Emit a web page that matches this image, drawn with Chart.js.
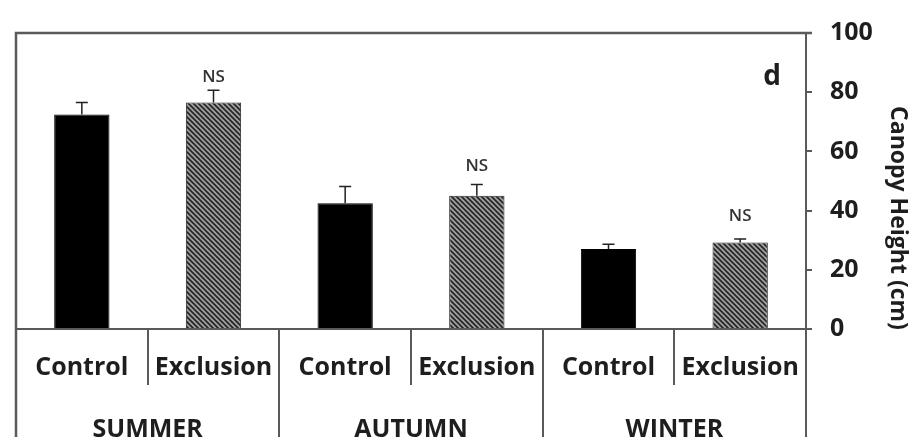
<!DOCTYPE html>
<html>
<head>
<meta charset="utf-8">
<script src="https://cdn.jsdelivr.net/npm/chart.js@4.4.1/dist/chart.umd.min.js"></script>
<style>
  html, body { margin: 0; padding: 0; background: #fff; }
  #wrap { width: 915px; height: 437px; position: relative; }
</style>
</head>
<body>
<div id="wrap"><canvas id="canopyChart"></canvas></div>
<script>
// values (cm)
let treatments = ["Control", "Exclusion", "Control", "Exclusion", "Control", "Exclusion"];
let seasons = ["SUMMER", "AUTUMN", "WINTER"];
let heights = [72.5, 76.5, 42.5, 45.0, 27.0, 29.2];
let errors = [4.0, 4.2, 5.6, 3.8, 1.6, 1.2];
let nsLabels = ["", "NS", "", "NS", "", "NS"];
let nsLevels = [0, 85, 0, 55, 0, 38];
let yTicks = [0, 20, 40, 60, 80, 100];

const lineGray = "#5a5a5a";
const textColor = "#1e1e1e";
const tickFont = { family: "Open Sans", size: 25, weight: "bold" };

function hatch() {
  let c = document.createElement("canvas");
  c.width = 5;
  c.height = 5;
  let g = c.getContext("2d");
  g.fillStyle = "#a0a0a0";
  g.fillRect(0, 0, 5, 5);
  g.strokeStyle = "#262626";
  g.lineWidth = 1.7;
  g.beginPath();
  g.moveTo(-1, -1);
  g.lineTo(6, 6);
  g.moveTo(-1, 4);
  g.lineTo(1, 6);
  g.moveTo(4, -1);
  g.lineTo(6, 1);
  g.stroke();
  return g.createPattern(c, "repeat");
}
let hatchFill = hatch();

// frame, error bars and labels
const extras = {
  id: "extras",
  afterDatasetsDraw(chart) {
    const ctx = chart.ctx;
    const area = chart.chartArea;
    const y = chart.scales.y;
    const meta = chart.getDatasetMeta(0);
    ctx.save();
    ctx.strokeStyle = lineGray;
    ctx.lineWidth = 2.5;
    ctx.beginPath();
    ctx.moveTo(area.left, chart.height);
    ctx.lineTo(area.left, area.top);
    ctx.lineTo(area.right + 6, area.top);
    ctx.stroke();

    ctx.strokeStyle = "#222";
    ctx.lineWidth = 1.5;
    meta.data.forEach((bar, i) => {
      let top = y.getPixelForValue(heights[i] + errors[i]);
      ctx.beginPath();
      ctx.moveTo(bar.x, bar.y);
      ctx.lineTo(bar.x, top);
      ctx.moveTo(bar.x - 6, top);
      ctx.lineTo(bar.x + 6, top);
      ctx.stroke();
      if (nsLabels[i]) {
        ctx.fillStyle = "#333";
        ctx.font = "600 17px 'Open Sans'";
        ctx.textAlign = "center";
        ctx.textBaseline = "middle";
        ctx.fillText(nsLabels[i], bar.x, y.getPixelForValue(nsLevels[i]));
      }
    });

    ctx.fillStyle = textColor;
    ctx.font = "bold 28px 'Open Sans'";
    ctx.textAlign = "center";
    ctx.textBaseline = "middle";
    ctx.fillText("d", area.right - 34, area.top + 44);

    ctx.translate(area.right + 92, 218);
    ctx.rotate(Math.PI / 2);
    ctx.font = "bold 23px 'Open Sans'";
    ctx.fillText("Canopy Height (cm)", 0, 0);
    ctx.restore();
  },
};

new Chart("canopyChart", {
  type: "bar",
  plugins: [extras],
  data: {
    labels: treatments,
    datasets: [
      {
        data: heights,
        backgroundColor: heights.map((v, i) => (i % 2 === 0 ? "#000" : hatchFill)),
        borderColor: heights.map((v, i) => (i % 2 === 0 ? "#000" : "#262626")),
        borderWidth: 1,
        barPercentage: 0.84,
        categoryPercentage: 0.5,
      },
    ],
  },
  options: {
    responsive: true,
    maintainAspectRatio: false,
    animation: false,
    layout: { padding: { left: 16, top: 30, right: 0, bottom: 0 } },
    plugins: {
      legend: { display: false },
      tooltip: { enabled: false },
    },
    scales: {
      x: {
        position: "bottom",
        weight: 0,
        grid: {
          offset: true,
          drawOnChartArea: false,
          tickLength: 56,
          color: lineGray,
          lineWidth: 2,
        },
        border: { display: true, color: lineGray, width: 2 },
        ticks: {
          font: tickFont,
          color: textColor,
          padding: -32,
          maxRotation: 0,
          autoSkip: false,
        },
        afterFit(scale) {
          scale.height = 56;
        },
      },
      season: {
        type: "category",
        labels: seasons,
        position: "bottom",
        weight: 1,
        offset: true,
        grid: {
          offset: true,
          drawOnChartArea: false,
          tickLength: 52,
          color: lineGray,
          lineWidth: 2,
        },
        border: { display: false },
        ticks: {
          font: tickFont,
          color: textColor,
          padding: -22,
          maxRotation: 0,
          autoSkip: false,
        },
        afterFit(scale) {
          scale.height = 52;
        },
      },
      y: {
        position: "right",
        min: 0,
        max: 100,
        afterBuildTicks(scale) {
          scale.ticks = yTicks.map((v) => ({ value: v }));
        },
        grid: {
          drawOnChartArea: false,
          tickLength: 6,
          color: lineGray,
          lineWidth: 2,
        },
        border: { display: true, color: lineGray, width: 2 },
        ticks: {
          font: tickFont,
          color: textColor,
          padding: 18,
        },
        afterFit(scale) {
          scale.width = 109;
        },
      },
    },
  },
});
</script>
</body>
</html>
